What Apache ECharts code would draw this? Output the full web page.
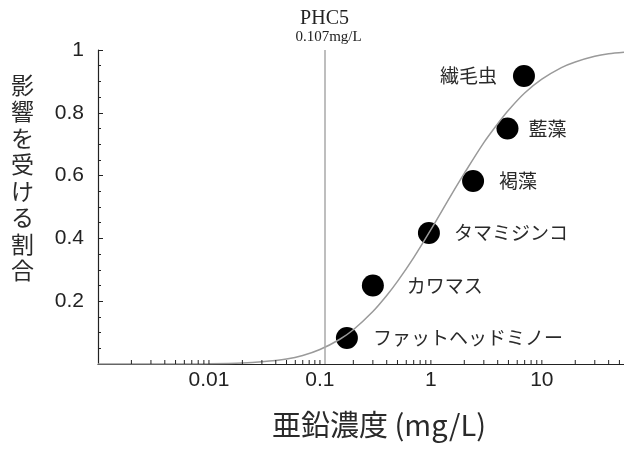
<!DOCTYPE html>
<html>
<head>
<meta charset="utf-8">
<script src="https://cdn.jsdelivr.net/npm/echarts@6/dist/echarts.min.js"></script>
<style>html,body{margin:0;padding:0;background:#fff}#c{width:624px;height:450px}</style>
</head>
<body>
<div id="c"></div>
<script>
// ---- data ----
const species = ['繊毛虫', '藍藻', '褐藻', 'タマミジンコ', 'カワマス', 'ファットヘッドミノー'];
const speciesConc = [6.9, 4.9, 2.4, 0.96, 0.30, 0.175];
const speciesFrac = [0.917, 0.75, 0.583, 0.417, 0.25, 0.083];

const curveConc = [0.001, 0.005, 0.01, 0.02, 0.03, 0.05, 0.07, 0.1, 0.15, 0.2, 0.3, 0.4, 0.5, 0.7, 1, 1.5, 2, 3, 4, 5, 7, 10, 15, 20, 30, 40, 55];
const curveFrac = [0, 0.0001, 0.0007, 0.003, 0.007, 0.016, 0.027, 0.046, 0.078, 0.109, 0.167, 0.218, 0.263, 0.339, 0.428, 0.534, 0.607, 0.705, 0.765, 0.808, 0.863, 0.907, 0.944, 0.962, 0.980, 0.988, 0.993];

const phc5 = 0.107;
const xMin = 0.001;
const xMax = 55;
const xLabelValues = [0.01, 0.1, 1, 10];
const xTickValues = [
  0.002, 0.003, 0.004, 0.005, 0.006, 0.007, 0.008, 0.009, 0.01,
  0.02, 0.03, 0.04, 0.05, 0.06, 0.07, 0.08, 0.09, 0.1,
  0.2, 0.3, 0.4, 0.5, 0.6, 0.7, 0.8, 0.9, 1,
  2, 3, 4, 5, 6, 7, 8, 9, 10,
  20, 30, 40, 50
];
const yTitle = '影響を受ける割合';
const xTitle = '亜鉛濃度 (mg/L)';

// ---- styles ----
const labelStyle = {
  '繊毛虫': {position: 'left', distance: 16},
  '藍藻': {position: 'right', distance: 10},
  '褐藻': {position: 'right', distance: 15},
  'タマミジンコ': {position: 'right', distance: 14},
  'カワマス': {position: 'right', distance: 23},
  'ファットヘッドミノー': {position: 'right', distance: 15}
};

const chart = echarts.init(document.getElementById('c'));
const axisColor = '#222';
const cjk = '"Noto Sans CJK JP", "Noto Sans", sans-serif';
const sans = '"Liberation Sans", Arial, sans-serif';
const serif = '"Liberation Serif", "Times New Roman", serif';
const tickLen = 4;

chart.setOption({
  animation: false,
  grid: {left: 98, right: 0, top: 50, bottom: 86},
  xAxis: {
    type: 'log', logBase: 10, min: xMin, max: xMax,
    axisLine: {lineStyle: {color: axisColor, width: 1.2}},
    axisTick: {show: false},
    axisLabel: {customValues: xLabelValues, margin: 6, color: '#222', fontFamily: sans, fontSize: 21,
      formatter: v => String(+(+v).toPrecision(3))},
    splitLine: {show: false}
  },
  yAxis: {
    type: 'value', min: 0, max: 1, interval: 0.2,
    axisLine: {show: true, lineStyle: {color: axisColor, width: 1.2}},
    axisTick: {show: true, inside: true, length: 5, lineStyle: {color: axisColor}},
    minorTick: {show: true, splitNumber: 4, length: 3, lineStyle: {color: axisColor}},
    axisLabel: {showMinLabel: false, margin: 14, color: '#222', fontFamily: sans, fontSize: 21,
      formatter: v => String(+v.toFixed(2))},
    splitLine: {show: false}
  },
  graphic: [
    {type: 'text', left: 11, top: 72, style: {text: yTitle.split('').join('\n'), font: '23px ' + cjk, fill: '#2a2a2a', lineHeight: 26.5, align: 'left'}},
    {type: 'text', left: 272, top: 410, style: {text: xTitle, font: '29px ' + cjk, fill: '#2a2a2a'}}
  ],
  series: [
    {
      // log-axis tick marks, positioned by the x axis scale
      type: 'custom',
      silent: true,
      clip: false,
      z: 5,
      data: xTickValues.map(v => [v, 0]),
      renderItem: (params, api) => {
        const p = api.coord([api.value(0), api.value(1)]);
        return {
          type: 'line',
          shape: {x1: p[0], y1: p[1], x2: p[0], y2: p[1] - tickLen},
          style: {stroke: axisColor, lineWidth: 1}
        };
      }
    },
    {
      type: 'line',
      data: curveConc.map((x, i) => [x, curveFrac[i]]),
      smooth: 0.3,
      showSymbol: false,
      lineStyle: {color: '#9a9a9a', width: 1.5},
      markLine: {
        silent: true,
        symbol: 'none',
        lineStyle: {color: '#a8a8a8', width: 1.5, type: 'solid'},
        label: {
          show: true, position: 'end', distance: 4,
          formatter: '{a|PHC5}\n{b|0.107mg/L}',
          rich: {
            a: {fontFamily: serif, fontSize: 20, color: '#222', lineHeight: 20, align: 'center'},
            b: {fontFamily: serif, fontSize: 15, color: '#222', lineHeight: 17, align: 'center', padding: [0, 0, 0, 8]}
          }
        },
        data: [{xAxis: phc5}]
      }
    },
    {
      type: 'scatter',
      symbolSize: 22,
      itemStyle: {color: '#000', opacity: 1},
      data: species.map((n, i) => ({
        name: n,
        value: [speciesConc[i], speciesFrac[i]],
        label: {show: true, formatter: '{b}', position: labelStyle[n].position, distance: labelStyle[n].distance,
          color: '#2a2a2a', fontFamily: cjk, fontSize: 19}
      }))
    }
  ]
});
</script>
</body>
</html>
